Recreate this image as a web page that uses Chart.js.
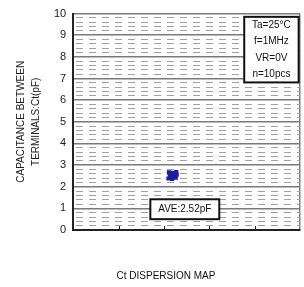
<!DOCTYPE html>
<html>
<head>
<meta charset="utf-8">
<script src="https://cdn.jsdelivr.net/npm/chart.js@4/dist/chart.umd.min.js"></script>
<style>
html, body { margin: 0; padding: 0; background: #fff; }
#wrap { width: 304px; height: 287px; }
</style>
</head>
<body>
<div id="wrap"><canvas id="ctChart"></canvas></div>
<script>
// 10 samples
var sampleX = [2.11, 2.19, 2.27, 2.13, 2.21, 2.28, 2.10, 2.18, 2.26, 2.15];
var sampleY = [2.66, 2.64, 2.68, 2.52, 2.50, 2.56, 2.38, 2.36, 2.42, 2.48];
var yMajor = [0, 1, 2, 3, 4, 5, 6, 7, 8, 9, 10];
var xTicks = [1, 2, 3, 4];
var conditionLines = ['Ta=25\u00b0C', 'f=1MHz', 'VR=0V', 'n=10pcs'];
var aveLabel = 'AVE:2.52pF';
var axisTitle = ['CAPACITANCE BETWEEN', 'TERMINALS:Ct(pF)'];
var caption = 'Ct DISPERSION MAP';

var FONT = '"Liberation Sans", Arial, sans-serif';

function isMajor(v) {
	return Math.abs(v - Math.round(v)) < 1e-6;
}

// minor grid every 0.2 between the major ticks
var yGridTicks = [];
for (var i = 0; i < yMajor.length - 1; i++) {
	for (var k = 0; k < 5; k++) {
		yGridTicks.push(Math.round((yMajor[i] + k * 0.2) * 10) / 10);
	}
}
yGridTicks.push(yMajor[yMajor.length - 1]);

var boxPlugin = {
	id: 'boxes',
	afterDatasetsDraw: function(chart) {
		var ctx = chart.ctx;
		var xs = chart.scales.x, ys = chart.scales.y;
		var area = chart.chartArea;

		ctx.save();
		// tick marks inside the bottom axis
		ctx.strokeStyle = '#222';
		ctx.lineWidth = 1;
		xTicks.forEach(function(v) {
			var px = Math.round(xs.getPixelForValue(v)) + 0.5;
			ctx.beginPath();
			ctx.moveTo(px, area.bottom);
			ctx.lineTo(px, area.bottom - 4);
			ctx.stroke();
		});

		ctx.font = '10px ' + FONT;
		ctx.textAlign = 'center';
		ctx.textBaseline = 'middle';

		// measurement conditions box
		var l = xs.getPixelForValue(3.77), r = xs.getPixelForValue(4.97);
		var t = ys.getPixelForValue(9.85), b = ys.getPixelForValue(6.82);
		ctx.fillStyle = '#fff';
		ctx.fillRect(l, t, r - l, b - t);
		ctx.strokeStyle = '#111';
		ctx.lineWidth = 2;
		ctx.strokeRect(l, t, r - l, b - t);
		ctx.fillStyle = '#111';
		var step = (b - t) / conditionLines.length;
		conditionLines.forEach(function(s, j) {
			ctx.fillText(s, (l + r) / 2, t + step * (j + 0.5));
		});

		// average box
		l = xs.getPixelForValue(1.70); r = xs.getPixelForValue(3.22);
		t = ys.getPixelForValue(1.42); b = ys.getPixelForValue(0.50);
		ctx.fillStyle = '#fff';
		ctx.fillRect(l, t, r - l, b - t);
		ctx.strokeRect(l, t, r - l, b - t);
		ctx.fillStyle = '#111';
		ctx.fillText(aveLabel, (l + r) / 2, (t + b) / 2 + 0.5);

		// caption under the plot
		ctx.fillText(caption, chart.width / 2 + 14, chart.height - 11);
		ctx.restore();
	}
};

var ctx = document.getElementById('ctChart');
var myChart = new Chart(ctx, {
	type: 'scatter',
	data: {
		datasets: [{
			data: sampleX.map(function(x, j) { return { x: x, y: sampleY[j] }; }),
			pointStyle: 'rect',
			pointRadius: 3,
			backgroundColor: '#1e1e9e',
			borderColor: '#1e1e9e',
			borderWidth: 0
		}]
	},
	options: {
		responsive: true,
		maintainAspectRatio: false,
		animation: false,
		layout: {
			padding: { left: 14, top: 0, right: 3, bottom: 57 }
		},
		scales: {
			x: {
				type: 'linear',
				min: 0,
				max: 5,
				ticks: { display: false, stepSize: 1 },
				grid: {
					drawTicks: false,
					color: function(c) { return c.tick && c.tick.value === 5 ? '#808080' : 'rgba(0,0,0,0)'; },
					lineWidth: 1.5
				},
				border: { display: true, color: '#222', width: 2 }
			},
			y: {
				min: 0,
				max: 10,
				afterBuildTicks: function(scale) {
					scale.ticks = yGridTicks.map(function(v) { return { value: v }; });
				},
				ticks: {
					autoSkip: false,
					padding: 7,
					color: '#222',
					font: { family: FONT, size: 11 },
					callback: function(v) { return isMajor(v) ? String(Math.round(v)) : ''; }
				},
				grid: {
					drawTicks: false,
					color: function(c) { return c.tick && isMajor(c.tick.value) ? '#7a7a7a' : '#a2a2a2'; },
					lineWidth: function(c) { return c.tick && isMajor(c.tick.value) ? 1.5 : 1; }
				},
				border: {
					display: true,
					color: '#222',
					width: 2,
					dash: function(c) { return c.tick && !isMajor(c.tick.value) ? [7, 6] : []; },
					dashOffset: -2
				},
				title: {
					display: true,
					text: axisTitle,
					color: '#222',
					font: { family: FONT, size: 10, lineHeight: 1.5 },
					padding: { top: 0, bottom: 3 }
				}
			}
		},
		plugins: {
			legend: { display: false },
			tooltip: { enabled: false }
		}
	},
	plugins: [boxPlugin]
});
</script>
</body>
</html>
